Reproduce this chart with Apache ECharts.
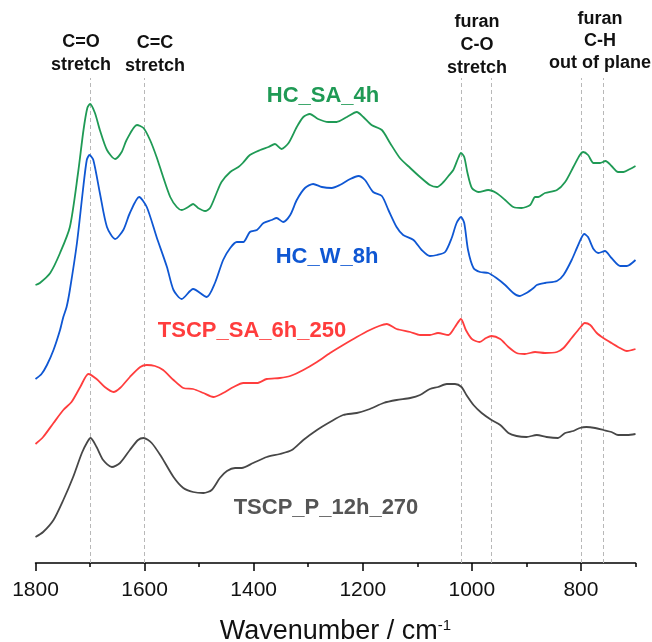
<!DOCTYPE html>
<html>
<head>
<meta charset="utf-8">
<script src="https://cdn.jsdelivr.net/npm/echarts@6/dist/echarts.min.js"></script>
<style>
html,body{margin:0;padding:0;background:#fff;}
#chart{width:652px;height:642px;}
</style>
</head>
<body>
<div id="chart"></div>
<script>
// ---- data (wavenumber in cm-1, offset absorbance in a.u.) ----
const hcSA4hWn = [1800,1792,1773,1755,1737,1722,1712,1705,1700,1691,1682,1669,1654,1642,1633,1614,1602,1590,1578,1566,1553,1541,1532,1520,1511,1502,1489,1480,1468,1459,1443,1428,1420,1407,1388,1373,1361,1349,1336,1321,1309,1297,1282,1263,1248,1229,1211,1199,1184,1165,1150,1132,1113,1095,1077,1064,1052,1043,1034,1025,1020,1014,1008,1000,988,970,955,939,924,909,893,884,878,866,844,829,814,802,796,787,777,765,755,744,732,722,710,700];
const hcSA4hAbs = [2.78,2.80,2.90,3.10,3.36,3.90,4.33,4.55,4.59,4.50,4.33,4.13,4.04,4.11,4.23,4.38,4.35,4.23,4.06,3.86,3.66,3.56,3.53,3.56,3.59,3.55,3.52,3.55,3.70,3.81,3.91,3.96,4.00,4.08,4.13,4.16,4.19,4.14,4.20,4.36,4.46,4.49,4.44,4.41,4.41,4.46,4.51,4.46,4.38,4.33,4.20,4.05,3.95,3.86,3.78,3.76,3.81,3.87,3.93,4.05,4.10,4.06,3.90,3.75,3.71,3.73,3.70,3.63,3.56,3.55,3.58,3.66,3.66,3.70,3.73,3.81,3.96,4.08,4.11,4.08,4.00,4.00,4.02,3.97,3.91,3.91,3.94,3.97];

const hcW8hWn = [1800,1789,1779,1767,1755,1749,1743,1737,1724,1713,1706,1701,1694,1682,1669,1654,1639,1627,1610,1596,1578,1559,1547,1532,1511,1486,1471,1456,1443,1431,1419,1407,1394,1382,1367,1358,1346,1333,1321,1306,1291,1275,1257,1242,1223,1208,1196,1181,1165,1153,1138,1126,1107,1092,1077,1064,1049,1037,1028,1020,1014,1007,997,985,970,955,939,924,913,900,887,881,866,844,832,817,805,794,787,777,768,756,744,728,716,700];
const hcW8hAbs = [1.84,1.89,1.98,2.13,2.33,2.46,2.56,2.73,3.20,3.73,4.03,4.08,4.03,3.70,3.36,3.24,3.33,3.50,3.66,3.56,3.26,2.96,2.73,2.64,2.74,2.66,2.80,3.03,3.15,3.21,3.21,3.31,3.33,3.40,3.43,3.45,3.41,3.48,3.63,3.75,3.79,3.76,3.75,3.78,3.84,3.87,3.83,3.71,3.67,3.53,3.36,3.28,3.23,3.13,3.07,3.08,3.11,3.25,3.40,3.46,3.40,3.13,2.95,2.91,2.90,2.85,2.78,2.70,2.67,2.70,2.75,2.78,2.80,2.82,2.88,3.03,3.18,3.29,3.26,3.14,3.10,3.12,3.05,2.97,2.97,3.03];

const tscpSA6hWn = [1800,1786,1767,1749,1734,1718,1703,1688,1673,1657,1645,1627,1608,1596,1581,1566,1547,1529,1511,1492,1474,1456,1437,1419,1394,1376,1352,1333,1309,1284,1260,1236,1211,1187,1170,1156,1138,1113,1095,1077,1062,1043,1031,1020,1011,1000,986,974,964,948,933,918,903,884,866,844,832,817,802,793,783,771,759,744,725,716,700];
const tscpSA6hAbs = [1.19,1.26,1.40,1.53,1.61,1.76,1.89,1.84,1.76,1.71,1.75,1.86,1.96,1.98,1.97,1.93,1.83,1.75,1.74,1.70,1.66,1.70,1.76,1.80,1.80,1.84,1.85,1.87,1.93,2.01,2.10,2.18,2.26,2.33,2.37,2.39,2.34,2.31,2.28,2.28,2.30,2.28,2.36,2.44,2.33,2.24,2.21,2.25,2.27,2.24,2.16,2.10,2.09,2.11,2.10,2.11,2.15,2.25,2.35,2.40,2.38,2.30,2.25,2.20,2.14,2.12,2.14];

const tscpP12hWn = [1800,1786,1767,1749,1731,1715,1705,1699,1688,1676,1660,1645,1627,1612,1602,1587,1569,1547,1529,1511,1492,1477,1462,1449,1434,1422,1401,1376,1352,1330,1309,1284,1260,1236,1211,1187,1162,1138,1113,1095,1077,1062,1046,1031,1019,1010,997,982,964,948,933,918,900,881,863,842,829,814,802,790,774,759,744,732,715,700];
const tscpP12hAbs = [0.26,0.31,0.43,0.63,0.86,1.10,1.21,1.25,1.16,1.03,0.96,1.00,1.13,1.23,1.25,1.20,1.06,0.86,0.75,0.71,0.70,0.73,0.85,0.92,0.95,0.95,1.00,1.06,1.09,1.13,1.23,1.33,1.41,1.48,1.50,1.54,1.60,1.63,1.65,1.68,1.74,1.76,1.79,1.79,1.76,1.68,1.58,1.50,1.43,1.38,1.30,1.27,1.26,1.28,1.26,1.25,1.30,1.32,1.35,1.36,1.35,1.33,1.31,1.28,1.28,1.29];

const seriesNames = ['HC_SA_4h','HC_W_8h','TSCP_SA_6h_250','TSCP_P_12h_270'];
const bandPositions = [1700,1600,1020,965,800,760];
const majorTicks = [800,1000,1200,1400,1600,1800];
const minorTicks = [700,900,1100,1300,1500,1700];

// ---- styling ----
const colors = ['#1f9a55','#0f57d3','#ff3d3d','#474747'];
const labelColors = ['#1f9a55','#0f57d3','#ff3d3d','#555555'];
const FONT = 'Liberation Sans, Arial, sans-serif';

function zip(wn, ab){ return wn.map((w,i)=>[w, ab[i]]); }
const seriesData = [zip(hcSA4hWn,hcSA4hAbs), zip(hcW8hWn,hcW8hAbs), zip(tscpSA6hWn,tscpSA6hAbs), zip(tscpP12hWn,tscpP12hAbs)];

const chart = echarts.init(document.getElementById('chart'), null, {renderer:'canvas'});

const series = seriesData.map((d,i)=>({
  name: seriesNames[i],
  type: 'line',
  data: d,
  showSymbol: false,
  smooth: 0.25,
  lineStyle: {color: colors[i], width: 1.8},
  z: 3
}));
series[0].markLine = {
  silent: true,
  symbol: ['none','none'],
  label: {show:false},
  lineStyle: {color:'#b8b8b8', type:[4,3], width:1},
  data: bandPositions.map(v=>({xAxis:v})),
  z: 1
};

const labelPos = [[323,96],[327,257],[252,331],[326,508]];
const annotations = [
  {text:'C=O\nstretch', x:81, y:54, lh:23},
  {text:'C=C\nstretch', x:155, y:55, lh:23},
  {text:'furan\nC-O\nstretch', x:477, y:45, lh:23},
  {text:'furan\nC-H\nout of plane', x:600, y:41, lh:22}
];

const graphic = [];
seriesNames.forEach((n,i)=>{
  graphic.push({type:'text', x:labelPos[i][0], y:labelPos[i][1], z:10,
    style:{text:n, fill:labelColors[i], font:'bold 22px '+FONT, align:'center', verticalAlign:'middle'}});
});
annotations.forEach(a=>{
  graphic.push({type:'text', x:a.x, y:a.y, z:10,
    style:{text:a.text, fill:'#111', font:'bold 18px '+FONT, align:'center', verticalAlign:'middle', lineHeight:a.lh}});
});

chart.setOption({
  backgroundColor:'#fff',
  animation:false,
  grid:{left:35.5, right:16.5, top:78, bottom:79, containLabel:false, outerBoundsMode:'none'},
  xAxis:[{
    type:'value', inverse:true, min:700, max:1800, position:'bottom',
    axisLine:{show:true, lineStyle:{color:'#000', width:1.5}},
    axisTick:{show:true, length:8, customValues:majorTicks, lineStyle:{color:'#000', width:1.5}},
    axisLabel:{show:true, customValues:majorTicks, fontSize:21, color:'#111', margin:17, fontFamily:FONT,
      formatter:(v)=>String(v)},
    splitLine:{show:false},
    name:'{a|Wavenumber / cm}{s|-1}',
    nameLocation:'middle', nameGap:55,
    nameTextStyle:{fontFamily:FONT, color:'#111', rich:{
      a:{fontSize:27, fontFamily:FONT, color:'#111'},
      s:{fontSize:15, fontFamily:FONT, color:'#111', verticalAlign:'top', padding:[0,0,12,0]}
    }}
  },{
    type:'value', inverse:true, min:700, max:1800, position:'bottom',
    axisLine:{show:false},
    axisTick:{show:true, length:4, customValues:minorTicks, lineStyle:{color:'#000', width:1.5}},
    axisLabel:{show:false},
    splitLine:{show:false}
  }],
  yAxis:{type:'value', min:0, max:4.85, show:false},
  series: series,
  graphic: graphic
});
</script>
</body>
</html>
